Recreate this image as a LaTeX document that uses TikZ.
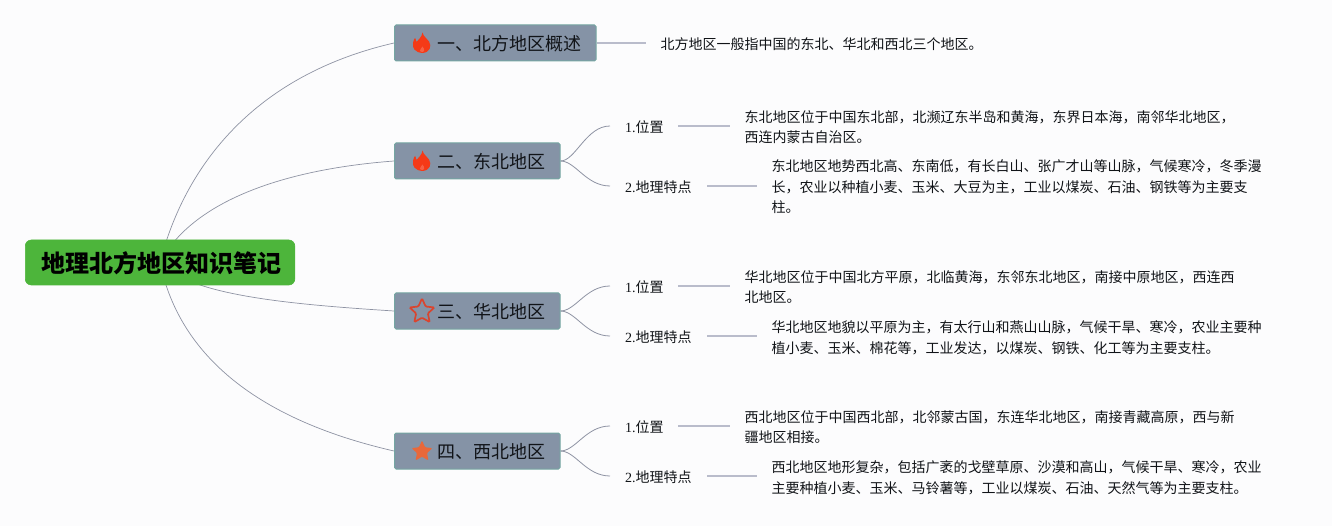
\documentclass[tikz,border=0pt]{standalone}
\usepackage{fontspec}
\setmainfont{Noto Sans CJK SC}
\newfontfamily\digitfont{Liberation Serif}
\usetikzlibrary{shapes.geometric,backgrounds}
\definecolor{pagebg}{HTML}{FCFCFD}
\definecolor{rootfill}{HTML}{4DB53B}
\definecolor{topicfill}{HTML}{8593A6}
\definecolor{topicedge}{HTML}{74A6A2}
\definecolor{linkmain}{HTML}{8E93A3}
\definecolor{linkside}{HTML}{B9BCCB}
\definecolor{ink}{HTML}{111418}
\definecolor{flamered}{HTML}{F53A17}
\definecolor{starline}{HTML}{D9452F}
\definecolor{starfill}{HTML}{E8683A}
\tikzset{
  x=1pt,y=-1pt,
  rootbox/.style={fill=rootfill,draw=rootfill,rounded corners=6pt,line width=.6pt,minimum width=269.5pt,minimum height=45pt,inner sep=0pt,anchor=west,text height=20.2pt,text depth=0pt,font=\fontsize{24}{28}\selectfont\bfseries,text=black},
  topicbox/.style={fill=topicfill,draw=topicedge,rounded corners=1.5pt,line width=1pt,minimum height=36pt,inner xsep=14.5pt,inner ysep=0pt,anchor=west,text height=15.7pt,text depth=0pt,font=\fontsize{18}{22}\selectfont,text=ink},
  sublabel/.style={anchor=west,inner xsep=15pt,inner ysep=3pt,align=left,text height=12.6pt,text depth=0pt,font=\fontsize{14}{16}\selectfont,text=ink},
  detail/.style={anchor=west,align=left,inner xsep=14.5pt,inner ysep=0pt,font=\fontsize{14}{20.5}\selectfont,text=ink},
  mainlink/.style={draw=linkmain,line width=.7pt},
  branchlink/.style={draw=linkmain,line width=.8pt},
  sidelink/.style={draw=linkside,line width=1.3pt},
  flame/.pic={\fill[flamered] (0.5,-10.5) .. controls (1.5,-6) and (5,-5) .. (7,-1.5) .. controls (10,3) and (8,9.5) .. (0.5,10) .. controls (-7,9.5) and (-10,5) .. (-9,0) .. controls (-8.8,-2) and (-7.5,-5) .. (-7,-5) .. controls (-6.5,-4.5) and (-6,-3) .. (-5.5,-1) .. controls (-4,-3) and (0,-6) .. (0.5,-10.5) -- cycle;
    \fill[flamered!80!white] (0.5,3.5) .. controls (1,5) and (3,6) .. (2.2,8) .. controls (1.8,9.5) and (-1.2,9.5) .. (-2.2,8) .. controls (-2.7,7) and (-2.2,6.2) .. (-1.3,6) .. controls (-1,5.5) and (0,4.5) .. (0.5,3.5) -- cycle;},
  starmark/.style={star,star points=5,star point ratio=2.1,inner sep=0pt,rounded corners=1pt}
}
\newcommand{\tlabel}[1]{\hspace*{28.5pt}#1}
\newcommand{\slabel}[2]{{\digitfont #1.}#2}
\begin{document}
\begin{tikzpicture}
\useasboundingbox (0,0) rectangle (1332,526);
\node[rootbox] (root) at (25,262.5) {\hspace*{2pt}地理北方地区知识笔记};
\node[topicbox] (t1) at (394,43) {\tlabel{一、北方地区概述}};
\node[topicbox] (t2) at (394,161) {\tlabel{二、东北地区}};
\node[topicbox] (t3) at (394,311) {\tlabel{三、华北地区}};
\node[topicbox] (t4) at (394,451) {\tlabel{四、西北地区}};
\pic at (422,43) {flame};
\pic at (422,161) {flame};
\node[starmark,draw=starline,line width=1.7pt,minimum size=26pt] (s3) at (422,311.5) {};
\node[starmark,fill=starfill,minimum size=22pt] (s4) at (422,451.5) {};

\node[sublabel,text width=38pt] (a1) at (610,126) {\slabel{1}{位置}};
\node[sublabel,text width=67pt] (a2) at (610,186) {\slabel{2}{地理特点}};
\node[sublabel,text width=38pt] (b1) at (610,286) {\slabel{1}{位置}};
\node[sublabel,text width=67pt] (b2) at (610,336) {\slabel{2}{地理特点}};
\node[sublabel,text width=38pt] (c1) at (610,426) {\slabel{1}{位置}};
\node[sublabel,text width=67pt] (c2) at (610,476) {\slabel{2}{地理特点}};

\node[detail] (d0) at (646,44) {北方地区一般指中国的东北、华北和西北三个地区。};
\node[detail] (da1) at (730,127) {东北地区位于中国东北部，北濒辽东半岛和黄海，东界日本海，南邻华北地区，\\西连内蒙古自治区。};
\node[detail] (da2) at (757,187) {东北地区地势西北高、东南低，有长白山、张广才山等山脉，气候寒冷，冬季漫\\长，农业以种植小麦、玉米、大豆为主，工业以煤炭、石油、钢铁等为主要支\\柱。};
\node[detail] (db1) at (730,287) {华北地区位于中国北方平原，北临黄海，东邻东北地区，南接中原地区，西连西\\北地区。};
\node[detail] (db2) at (757,338) {华北地区地貌以平原为主，有太行山和燕山山脉，气候干旱、寒冷，农业主要种\\植小麦、玉米、棉花等，工业发达，以煤炭、钢铁、化工等为主要支柱。};
\node[detail] (dc1) at (730,427) {西北地区位于中国西北部，北邻蒙古国，东连华北地区，南接青藏高原，西与新\\疆地区相接。};
\node[detail] (dc2) at (757,478) {西北地区地形复杂，包括广袤的戈壁草原、沙漠和高山，气候干旱、寒冷，农业\\主要种植小麦、玉米、马铃薯等，工业以煤炭、石油、天然气等为主要支柱。};

\begin{scope}[on background layer]
\fill[pagebg] (0,0) rectangle (1332,526);
\path[mainlink] (root.center) .. controls (185,165) and (255,75) .. (t1.west);
\path[mainlink] (root.center) .. controls (190,205) and (275,170) .. (t2.west);
\path[mainlink] (root.center) .. controls (190,295) and (285,304) .. (t3.west);
\path[mainlink] (root.center) .. controls (178,350) and (250,418) .. (t4.west);
\foreach \t/\a/\b in {t2/a1/a2,t3/b1/b2,t4/c1/c2}{
  \path[branchlink] (\t.east) .. controls +(15,0) and ([xshift=-24pt]\a.west) .. (\a.west);
  \path[branchlink] (\t.east) .. controls +(15,0) and ([xshift=-24pt]\b.west) .. (\b.west);
}
\path[sidelink] (t1.east) -- (t1.east -| d0.west);
\foreach \a/\d in {a1/da1,a2/da2,b1/db1,b2/db2,c1/dc1,c2/dc2}{
  \path[sidelink] (\a.east) -- (\a.east -| \d.west);
}
\end{scope}
\end{tikzpicture}
\end{document}
